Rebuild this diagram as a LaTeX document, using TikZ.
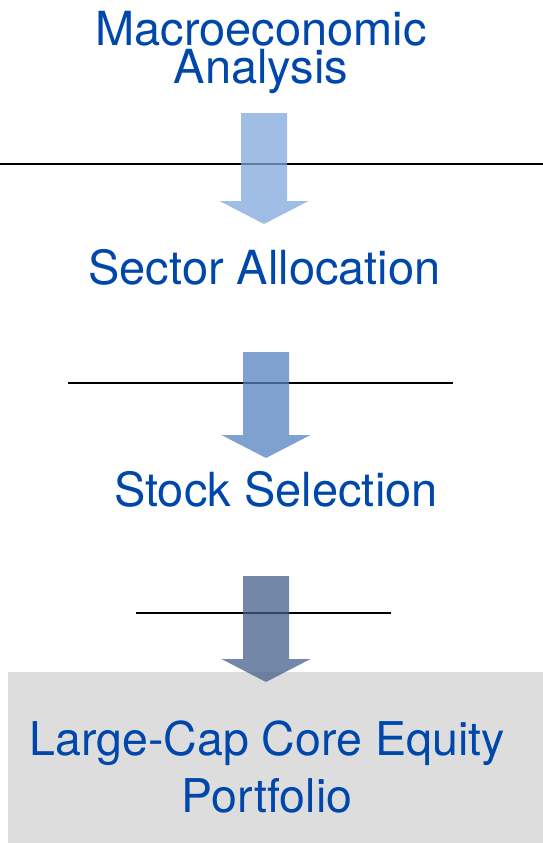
\documentclass[tikz,border=0pt]{standalone}
\usepackage{fontspec}
\setmainfont{TeX Gyre Heros}
\definecolor{stagetext}{RGB}{0,71,171}
\definecolor{arrowa}{RGB}{128,168,220}
\definecolor{arrowb}{RGB}{83,130,192}
\definecolor{arrowc}{RGB}{67,96,136}
\definecolor{boxgray}{RGB}{221,221,221}
\begin{document}
\begin{tikzpicture}[x=1pt, y=-1pt,
  stage/.style={anchor=base, inner sep=0pt, text=stagetext, align=center},
  rule/.style={line width=1.4pt, black},
  flow/.style={fill opacity=0.75}]
  \useasboundingbox (0,0) rectangle (543,843);

  % separator lines
  \draw[rule] (0,164) -- (543,164);
  \draw[rule] (68,383) -- (453,383);
  \draw[rule] (136,613) -- (391,613);

  % result box
  \node[fill=boxgray, inner sep=0pt, minimum width=535pt, minimum height=171pt]
    (portfoliobox) at (275.5,757.5) {};

  % block arrows
  \foreach \top/\base/\tip/\cx/\col in {113/201/224/264/arrowa,
      352/435/458/266/arrowb, 576/659/682/266/arrowc}
    \fill[flow, \col] (\cx-23,\top) -- (\cx+23,\top) -- (\cx+23,\base)
      -- (\cx+44.5,\base) -- (\cx,\tip) -- (\cx-44.5,\base)
      -- (\cx-23,\base) -- cycle;

  % stages (base is the last line)
  \node[stage, font=\fontsize{47}{37}\selectfont] (macro) at (261,83)
    {Macroeconomic\\Analysis};
  \node[stage, font=\fontsize{47}{56}\selectfont] (sector) at (264.5,284)
    {Sector Allocation};
  \node[stage, font=\fontsize{47}{56}\selectfont] (stock) at (276,506)
    {Stock Selection};
  \node[stage, font=\fontsize{46.5}{57}\selectfont] (portfolio) at (267,812)
    {Large-Cap Core Equity\\Portfolio};
\end{tikzpicture}
\end{document}
